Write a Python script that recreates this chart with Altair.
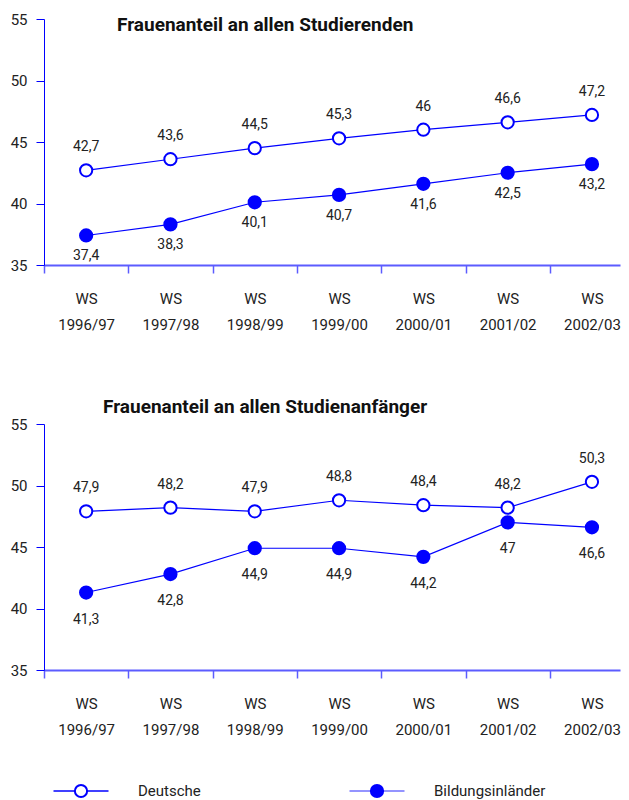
import json
import altair as alt
import pandas as pd

semesters = ["WS 1996/97", "WS 1997/98", "WS 1998/99", "WS 1999/00",
             "WS 2000/01", "WS 2001/02", "WS 2002/03"]
series = ["Deutsche", "Bildungsinländer"]

stud_deutsche = [42.7, 43.6, 44.5, 45.3, 46.0, 46.6, 47.2]
stud_bild = [37.4, 38.3, 40.1, 40.7, 41.6, 42.5, 43.2]
anf_deutsche = [47.9, 48.2, 47.9, 48.8, 48.4, 48.2, 50.3]
anf_bild = [41.3, 42.8, 44.9, 44.9, 44.2, 47.0, 46.6]

titles = ["Frauenanteil an allen Studierenden", "Frauenanteil an allen Studienanfänger"]
y_ticks = [35, 40, 45, 50, 55]

FONT = "Roboto"
BLUE = "#0000ff"
AXBLUE = "#5c5cff"
TXT = "#222222"

PLOT_W = 576
PLOT_H = 246
STEP = 84.3  # pixel width of one semester slot; the last slot runs past the page edge
X_DOMAIN = [-0.5, PLOT_W / STEP - 0.5]
LABEL_EXPR = "split(" + json.dumps(semesters, ensure_ascii=False) + "[datum.value], ' ')"


def make_df(d_vals, b_vals):
    rows = []
    for i, (s, v) in enumerate(zip(semesters, d_vals)):
        rows.append({"idx": i, "semester": s, "series": series[0], "value": v})
    for i, (s, v) in enumerate(zip(semesters, b_vals)):
        rows.append({"idx": i, "semester": s, "series": series[1], "value": v})
    return pd.DataFrame(rows)


def panel(d_vals, b_vals, below_dy):
    df = make_df(d_vals, b_vals)
    x = alt.X(
        "idx:Q",
        scale=alt.Scale(domain=X_DOMAIN, nice=False, zero=False),
        axis=alt.Axis(title=None, labelAngle=0, labelExpr=LABEL_EXPR,
                      values=list(range(len(semesters))),
                      tickOffset=-STEP / 2, labelOffset=STEP / 2,
                      domainColor=AXBLUE, domainWidth=2, grid=False,
                      tickColor=AXBLUE, tickWidth=1.5, tickSize=8,
                      labelFontSize=15, labelPadding=18, labelLineHeight=26,
                      labelColor=TXT, labelFont=FONT, labelBaseline="top",
                      labelAlign="center"))
    y = alt.Y(
        "value:Q",
        scale=alt.Scale(domain=[35, 55], nice=False, zero=False),
        axis=alt.Axis(title=None, values=y_ticks, grid=False, domainColor=BLUE,
                      tickColor=BLUE, tickSize=8, labelFontSize=15, labelPadding=9,
                      minExtent=36, maxExtent=36, labelColor=TXT, labelFont=FONT))
    base = alt.Chart(df).encode(x=x, y=y)
    line = base.mark_line(color=BLUE, strokeWidth=1.2).encode(detail="series:N")
    pts = base.mark_point(filled=True, shape="circle", size=150, stroke=BLUE,
                          strokeWidth=2, opacity=1).encode(
        fill=alt.Fill("series:N", scale=alt.Scale(domain=series, range=["white", BLUE]),
                      legend=None))
    lab = base.transform_calculate(label="replace(toString(datum.value), '.', ',')")
    top_t = lab.transform_filter(alt.datum.series == series[0]).mark_text(
        dy=-23, fontSize=14, font=FONT, color=TXT).encode(text="label:N")
    bot_t = lab.transform_filter(alt.datum.series == series[1]).mark_text(
        dy=below_dy, fontSize=14, font=FONT, color=TXT).encode(text="label:N")
    return [line, pts, top_t, bot_t]


# upper panel: its heading sits inside the plot area
top_layers = panel(stud_deutsche, stud_bild, 21)
top_title = alt.Chart(pd.DataFrame({"t": [titles[0]]})).mark_text(
    align="left", baseline="middle", fontSize=19, fontWeight="bold", font=FONT,
    color="#111111").encode(text="t:N", x=alt.value(73), y=alt.value(6))
top = alt.layer(*top_layers, top_title).properties(width=PLOT_W, height=PLOT_H)

# lower panel: heading just above the plot area
bottom = alt.layer(*panel(anf_deutsche, anf_bild, 27)).properties(
    width=PLOT_W, height=PLOT_H,
    title=alt.TitleParams(titles[1], anchor="start", frame="group", dx=59, offset=0,
                          fontSize=19, font=FONT, fontWeight="bold", color="#111111"))

legend_df = pd.DataFrame({"series": series})
lx = alt.X("series:N", sort=series,
           scale=alt.Scale(type="point", domain=series, padding=0.125), axis=None)
leg_base = alt.Chart(legend_df).encode(x=lx)
leg_line = leg_base.mark_point(shape="stroke", size=3025, filled=False,
                               strokeWidth=1.5, opacity=1).encode(
    stroke=alt.Stroke("series:N", scale=alt.Scale(domain=series, range=[BLUE, "#7070ff"]),
                      legend=None))
leg_pts = leg_base.mark_point(filled=True, shape="circle", size=150, stroke=BLUE,
                              strokeWidth=2, opacity=1).encode(
    fill=alt.Fill("series:N", scale=alt.Scale(domain=series, range=["white", BLUE]),
                  legend=None))
leg_txt = leg_base.mark_text(align="left", dx=57, fontSize=15, font=FONT,
                             color=TXT).encode(text="series:N")
legend = alt.layer(leg_line, leg_pts, leg_txt).properties(width=370, height=20)

chart = alt.vconcat(
    alt.vconcat(top, bottom, spacing=66),
    legend, spacing=43
).properties(
    padding={"left": 0, "top": 4, "right": 0, "bottom": 5}
).configure(font=FONT).configure_view(stroke=None)

chart.save("out.html", embed_options={"renderer": "svg", "actions": False})
